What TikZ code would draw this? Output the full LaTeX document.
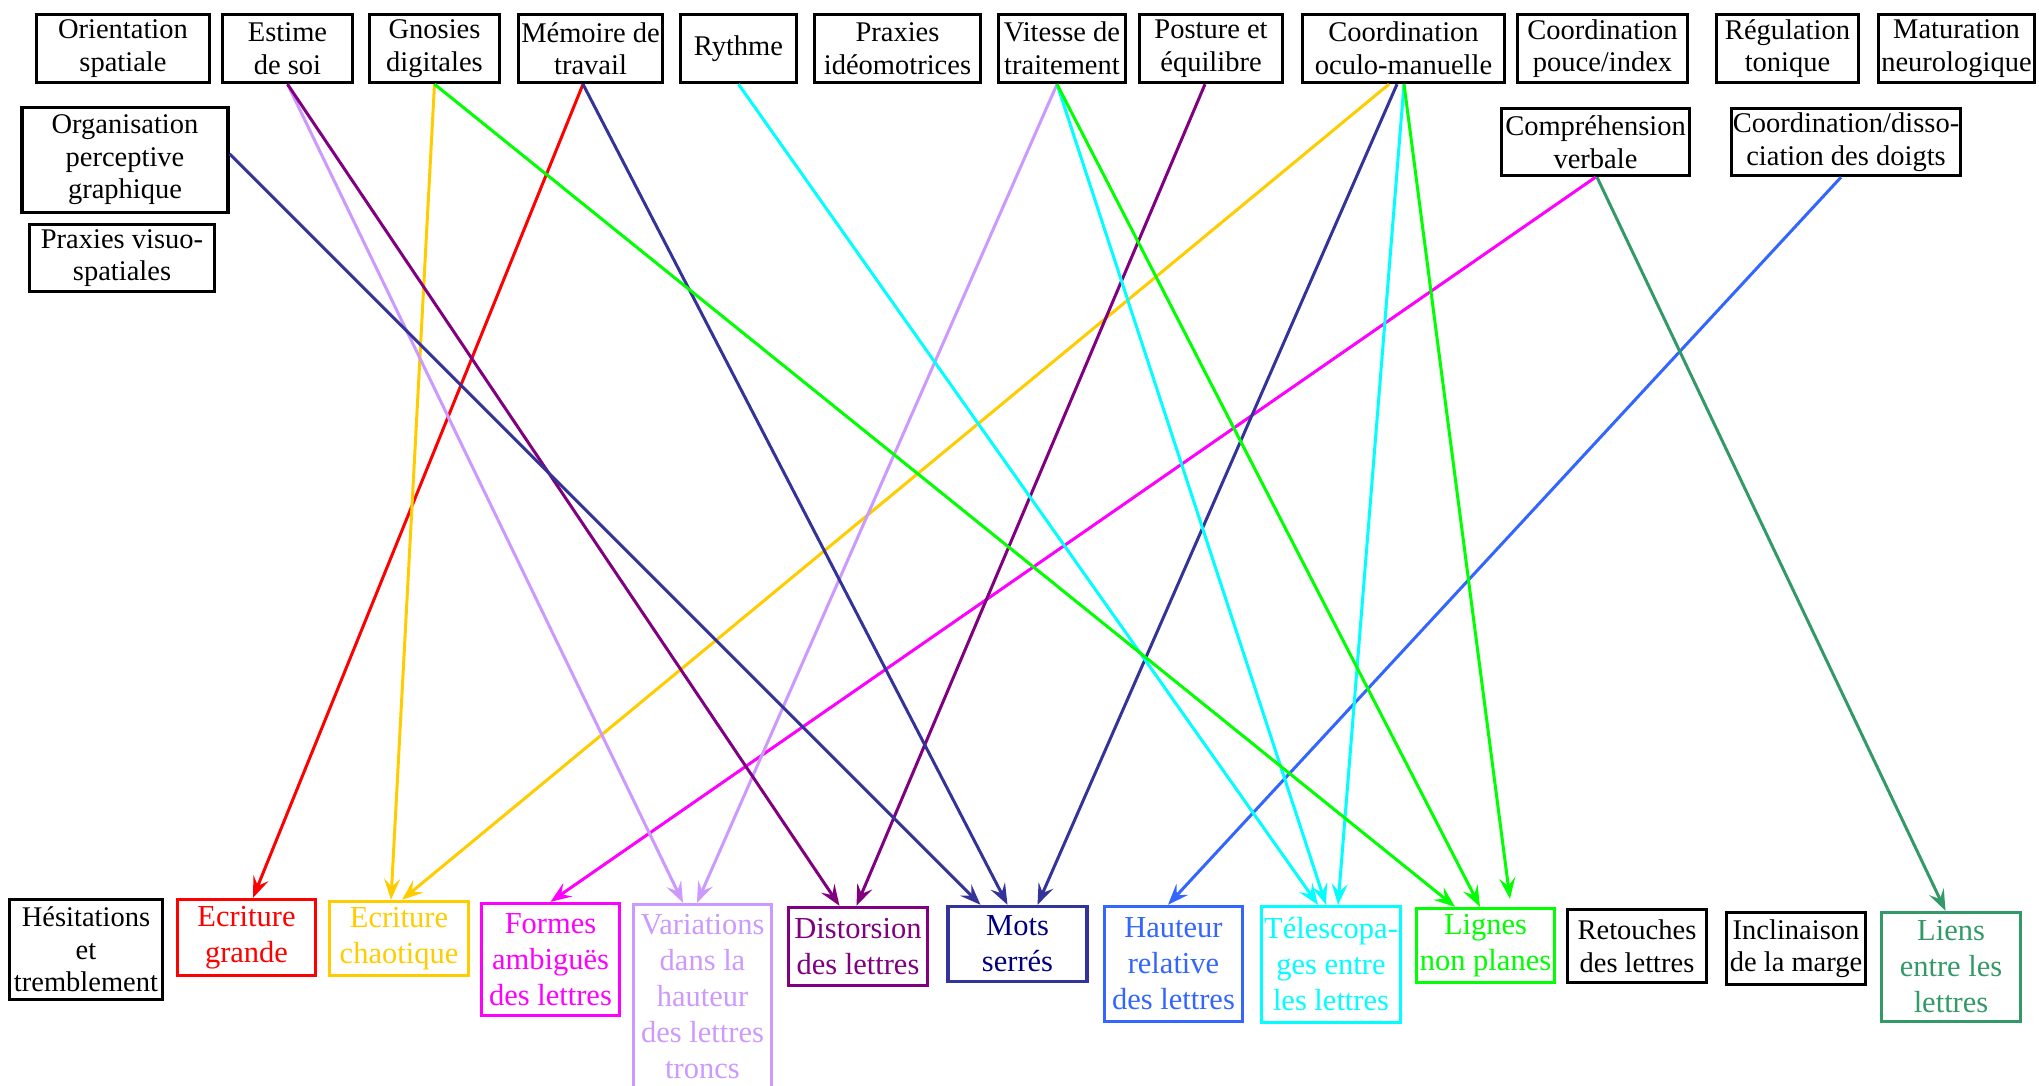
\documentclass[tikz,border=0pt]{standalone}
\usepackage{fontspec}
\setmainfont{Liberation Serif}
\usetikzlibrary{arrows.meta}
\definecolor{cRed}{HTML}{FF0000}
\definecolor{cGold}{HTML}{FFCC00}
\definecolor{cMag}{HTML}{FF00FF}
\definecolor{cLav}{HTML}{CC99FF}
\definecolor{cPur}{HTML}{800080}
\definecolor{cNavy}{HTML}{333399}
\definecolor{cNavyT}{HTML}{000080}
\definecolor{cBlue}{HTML}{3366FF}
\definecolor{cCyan}{HTML}{00FFFF}
\definecolor{cGreen}{HTML}{00FF00}
\definecolor{cSea}{HTML}{339966}
\newcommand\topfnt{\fontsize{28.5}{32.5}\selectfont}
\newcommand\botfnt{\fontsize{30.5}{36}\selectfont}
\tikzset{
  box/.style={draw, line width=3.4pt, align=center, inner sep=1pt, font=\topfnt},
  cbox/.style={box, draw=#1, text=#1, font=\botfnt},
  arr/.style={draw=#1, line width=3pt, -{Stealth[length=21pt,width=16pt,inset=8pt]}},
}
\begin{document}
\begin{tikzpicture}[x=1pt,y=-1pt]
\useasboundingbox (0,0) rectangle (2039,1086);
% top row
\node[box, minimum width=173, minimum height=68] (ori) at (123,48.5) {Orientation\\spatiale};
\node[box, minimum width=130, minimum height=68] (est) at (287.5,48.5) {Estime\\de soi};
\node[box, minimum width=130, minimum height=68] (gno) at (434.5,48.5) {Gnosies\\digitales};
\node[box, minimum width=144, minimum height=68] (mem) at (590.5,48.5) {Mémoire de\\travail};
\node[box, minimum width=116, minimum height=68] (ryt) at (738.5,48.5) {Rythme};
\node[box, minimum width=166, minimum height=68] (pid) at (897.5,48.5) {Praxies\\idéomotrices};
\node[box, minimum width=127, minimum height=68] (vit) at (1062,48.5) {Vitesse de\\traitement};
\node[box, minimum width=143, minimum height=68] (pos) at (1211,48.5) {Posture et\\équilibre};
\node[box, minimum width=202, minimum height=68] (coc) at (1403.5,48.5) {Coordination\\oculo-manuelle};
\node[box, minimum width=170, minimum height=68] (cpi) at (1602.5,48.5) {Coordination\\pouce/index};
\node[box, minimum width=142, minimum height=68] (reg) at (1787.5,48.5) {Régulation\\tonique};
\node[box, minimum width=156, minimum height=68] (mat) at (1956.5,48.5) {Maturation\\neurologique};
% second row
\node[box, minimum width=206, minimum height=105] (org) at (125,160) {Organisation\\perceptive\\graphique};
\node[box, minimum width=185, minimum height=67] (pvs) at (122,258) {Praxies visuo-\\spatiales};
\node[box, minimum width=188, minimum height=67] (cmp) at (1595.5,142) {Compréhension\\verbale};
\node[box, minimum width=229, minimum height=67] (dis) at (1846,142) {Coordination/disso-\\ciation des doigts};
% bottom row
\node[box, minimum width=153, minimum height=100] (hes) at (86,949.5) {Hésitations\\et\\tremblement};
\node[cbox=cRed, minimum width=138, minimum height=76] (gra) at (246.5,937.5) {Ecriture\\grande};
\node[cbox=cGold, minimum width=139, minimum height=74] (cha) at (399,938.5) {Ecriture\\chaotique};
\node[cbox=cMag, minimum width=138, minimum height=112] (for) at (550.5,959.5) {Formes\\ambiguës\\des lettres};
\node[cbox=cLav, minimum width=138, minimum height=185] (var) at (702.5,997) {Variations\\dans la\\hauteur\\des lettres\\troncs};
\node[cbox=cPur, minimum width=139, minimum height=78] (dst) at (858,946.5) {Distorsion\\des lettres};
\node[cbox=cNavy, text=cNavyT, minimum width=139, minimum height=75] (mot) at (1017.5,944) {Mots\\serrés};
\node[cbox=cBlue, minimum width=138, minimum height=115] (hau) at (1173.5,964) {Hauteur\\relative\\des lettres};
\node[cbox=cCyan, minimum width=139, minimum height=116] (tel) at (1331,964.5) {Télescopa-\\ges entre\\les lettres};
\node[cbox=cGreen, minimum width=138, minimum height=74] (lig) at (1485.5,945.5) {Lignes\\non planes};
\node[box, minimum width=139, minimum height=73] (ret) at (1637,946) {Retouches\\des lettres};
\node[box, minimum width=139, minimum height=72] (inc) at (1796,948.5) {Inclinaison\\de la marge};
\node[cbox=cSea, minimum width=139, minimum height=109] (lie) at (1951,967) {Liens\\entre les\\lettres};
% connectors
\draw[arr=cRed] ([xshift=-7.5pt]mem.south) -- ([xshift=6.5pt]gra.north);
\draw[arr=cGold] (gno.south) -- ([xshift=-8pt]cha.north);
\draw[arr=cGold] ([xshift=-14.5pt]coc.south) -- ([xshift=3pt]cha.north);
\draw[arr=cMag] (cmp.south) -- (for.north);
\draw[arr=cLav] (est.south) -- ([xshift=-19.5pt]var.north);
\draw[arr=cLav] ([xshift=-5pt]vit.south) -- ([xshift=-5.5pt]var.north);
\draw[arr=cPur] (est.south) -- ([xshift=-18.5pt]dst.north);
\draw[arr=cPur] ([xshift=-6pt]pos.south) -- ([xshift=-1.5pt]dst.north);
\draw[arr=cNavy] ([yshift=6pt]org.east) -- ([xshift=-37pt]mot.north);
\draw[arr=cNavy] ([xshift=-7.5pt]mem.south) -- ([xshift=-10pt]mot.north);
\draw[arr=cNavy] ([xshift=-6.5pt]coc.south) -- ([xshift=20pt]mot.north);
\draw[arr=cBlue] ([xshift=-5pt]dis.south) -- ([xshift=-5.5pt]hau.north);
\draw[arr=cCyan] (ryt.south) -- ([xshift=-13pt]tel.north);
\draw[arr=cCyan] ([xshift=-5pt]vit.south) -- ([xshift=-5pt]tel.north);
\draw[arr=cCyan] ([xshift=0.5pt]coc.south) -- ([xshift=7pt]tel.north);
\draw[arr=cGreen] (gno.south) -- ([xshift=-30.5pt]lig.north);
\draw[arr=cGreen] ([xshift=-5pt]vit.south) -- ([xshift=-5.5pt]lig.north);
\draw[arr=cGreen, shorten >=8pt] ([xshift=0.5pt]coc.south) -- ([xshift=25.5pt]lig.north);
\draw[arr=cSea] ([xshift=1.5pt]cmp.south) -- ([xshift=-5.5pt]lie.north);
\end{tikzpicture}
\end{document}
